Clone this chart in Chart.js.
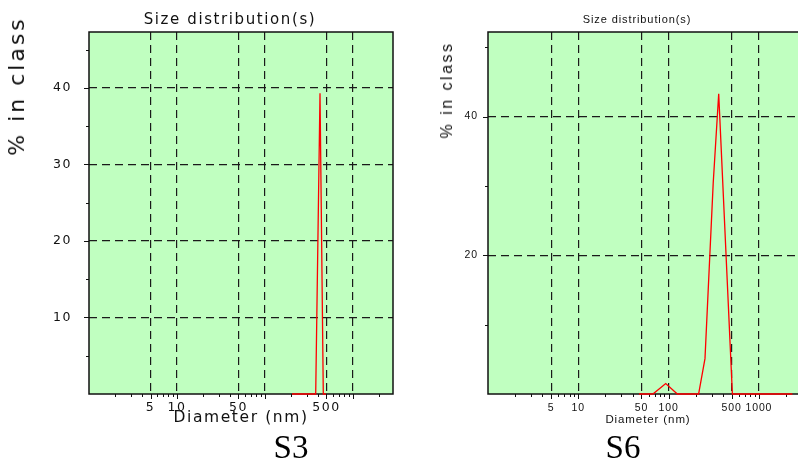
<!DOCTYPE html>
<html>
<head>
<meta charset="utf-8">
<script src="https://cdn.jsdelivr.net/npm/chart.js@4.4.1/dist/chart.umd.min.js"></script>
<style>
  html, body { margin: 0; padding: 0; overflow: hidden; background: #fff; }
  body { width: 798px; height: 461px; position: relative; }
  canvas { position: absolute; top: 0; }
  .ytitle {
    position: absolute; white-space: nowrap; color: #111;
    transform: translate(-50%, -50%) rotate(-90deg);
  }
  .caption {
    position: absolute; top: 431px; font-family: "Liberation Serif", serif;
    font-size: 33px; line-height: 33px; transform: translateX(-50%); color: #000;
  }
</style>
</head>
<body>
<canvas id="chart-s3" width="460" height="461" style="left:0"></canvas>
<canvas id="chart-s6" width="474" height="461" style="left:400px"></canvas>
<div class="ytitle" style="left:17px; top:86px; font-family:'DejaVu Sans'; font-size:22px; line-height:22px; letter-spacing:3px">% in class</div>
<div class="ytitle" style="left:447px; top:90px; font-family:'Liberation Sans'; font-size:16px; line-height:16px; letter-spacing:2.5px">% in class</div>
<div class="caption" style="left:291px">S3</div>
<div class="caption" style="left:623px">S6</div>
<script>
// S3 sample (left plot)
const s3Diameter = [203, 377, 422, 460, 493];
const s3Percent = [0, 0, 39.3, 0, 0];
const s3GridX = [5, 10, 50, 100, 500, 1000];
const s3LabelX = [5, 10, 50, 500];
const s3GridY = [10, 20, 30, 40];
const s3MinorY = [5, 15, 25, 35, 45];

// S6 sample (right plot)
const s6Diameter = [47, 67, 93, 125, 215, 253, 312, 359, 509, 2350];
const s6Percent = [0, 0, 1.5, 0, 0, 5.1, 30.4, 43.3, 0, 0];
const s6GridX = [5, 10, 50, 100, 500, 1000];
const s6LabelX = [5, 10, 50, 100, 500, 1000];
const s6GridY = [20, 40];
const s6MinorY = [10, 30, 50];

// minor log ticks on the diameter axis
const minorX = [2, 3, 4, 6, 7, 8, 9, 20, 30, 40, 60, 70, 80, 90,
                200, 300, 400, 600, 700, 800, 900, 2000, 3000];

function makeChart(id, o) {
    // paints the green plot area, the tick marks and the frame
    const framePlugin = {
        id: 'frame',
        beforeDraw(chart) {
            const c = chart.ctx;
            const a = chart.chartArea;
            c.letterSpacing = o.spacing;
            c.save();
            c.fillStyle = '#c0ffc0';
            c.fillRect(a.left, a.top, a.right - a.left, a.bottom - a.top);
            c.restore();
        },
        beforeDatasetsDraw(chart) {
            const c = chart.ctx;
            const a = chart.chartArea;
            const x = chart.scales.x;
            const y = chart.scales.y;
            c.save();
            c.strokeStyle = '#111';
            c.lineWidth = 1;
            c.setLineDash([]);
            c.beginPath();
            o.gridX.forEach(v => {
                const px = Math.round(x.getPixelForValue(v)) + 0.5;
                c.moveTo(px, a.bottom); c.lineTo(px, a.bottom + 5);
            });
            minorX.filter(v => v < o.maxX).forEach(v => {
                const px = Math.round(x.getPixelForValue(v)) + 0.5;
                c.moveTo(px, a.bottom); c.lineTo(px, a.bottom + 3);
            });
            o.gridY.forEach(v => {
                const py = Math.round(y.getPixelForValue(v)) + 0.5;
                c.moveTo(a.left, py); c.lineTo(a.left - 5, py);
            });
            o.minorY.forEach(v => {
                const py = Math.round(y.getPixelForValue(v)) + 0.5;
                c.moveTo(a.left, py); c.lineTo(a.left - 3, py);
            });
            c.stroke();
            c.lineWidth = 1.5;
            c.strokeRect(a.left, a.top, a.right - a.left, a.bottom - a.top);
            c.restore();
        }
    };

    return new Chart(document.getElementById(id), {
        type: 'line',
        data: {
            datasets: [{
                data: o.diameter.map((d, i) => ({ x: d, y: o.percent[i] })),
                borderColor: '#ff0000',
                borderWidth: 1.3,
                pointRadius: 0,
                tension: 0,
                fill: false,
                clip: 2
            }]
        },
        options: {
            responsive: false,
            animation: false,
            layout: { padding: 0 },
            plugins: {
                legend: { display: false },
                tooltip: { enabled: false },
                title: {
                    display: true,
                    text: 'Size distribution(s)',
                    color: '#111',
                    font: { family: o.font, size: o.titleSize, weight: 'normal' },
                    padding: o.titlePad
                }
            },
            scales: {
                x: {
                    type: 'logarithmic',
                    min: 1,
                    max: o.maxX,
                    afterBuildTicks: s => { s.ticks = o.gridX.map(v => ({ value: v })); },
                    afterFit: s => { s.height = 67; },
                    border: { display: false, dash: [8, 5] },
                    grid: {
                        color: '#1a1a1a',
                        lineWidth: 1.2,
                        tickColor: 'transparent',
                        tickLength: 5
                    },
                    ticks: {
                        autoSkip: false,
                        maxRotation: 0,
                        padding: o.xTickPad,
                        color: '#111',
                        font: { family: o.font, size: o.tickSize },
                        callback: v => o.labelX.includes(v) ? String(v) : ''
                    },
                    title: {
                        display: true,
                        text: 'Diameter (nm)',
                        color: '#111',
                        font: { family: o.font, size: o.axisSize },
                        padding: { top: 0, bottom: o.xTitlePad }
                    }
                },
                y: {
                    type: 'linear',
                    min: 0,
                    max: o.maxY,
                    afterBuildTicks: s => { s.ticks = [0].concat(o.gridY).map(v => ({ value: v })); },
                    afterFit: s => { s.width = o.yWidth; },
                    border: { display: false, dash: [8, 5] },
                    grid: {
                        color: c => (c.tick && c.tick.value === 0) ? 'transparent' : '#1a1a1a',
                        lineWidth: 1.2,
                        tickColor: 'transparent',
                        tickLength: 5
                    },
                    ticks: {
                        padding: o.yTickPad,
                        color: '#111',
                        font: { family: o.font, size: o.tickSize },
                        callback: v => v === 0 ? '' : String(v)
                    }
                },
                // empty right-hand box, keeps the title centred like the original
                spacer: {
                    type: 'linear',
                    position: 'right',
                    afterFit: s => { s.width = o.rightWidth; },
                    border: { display: false },
                    grid: { display: false },
                    ticks: { display: false }
                }
            }
        },
        plugins: [framePlugin]
    });
}

const s3Chart = makeChart('chart-s3', {
    diameter: s3Diameter, percent: s3Percent,
    gridX: s3GridX, labelX: s3LabelX, gridY: s3GridY, minorY: s3MinorY,
    maxX: 2850, maxY: 47.3, yWidth: 89, rightWidth: 67,
    font: 'DejaVu Sans', spacing: '1.6px',
    titleSize: 15, titlePad: { top: 11, bottom: 3 },
    tickSize: 12.5, axisSize: 15.5, xTickPad: 1, yTickPad: 12, xTitlePad: 34
});

const s6Chart = makeChart('chart-s6', {
    diameter: s6Diameter, percent: s6Percent,
    gridX: s6GridX, labelX: s6LabelX, gridY: s6GridY, minorY: s6MinorY,
    maxX: 3500, maxY: 52.2, yWidth: 88, rightWidth: 66,
    font: 'Liberation Sans', spacing: '0.9px',
    titleSize: 11, titlePad: { top: 13.4, bottom: 5.4 },
    tickSize: 10.5, axisSize: 11.5, xTickPad: 2.5, yTickPad: 5, xTitlePad: 34
});
</script>
</body>
</html>
